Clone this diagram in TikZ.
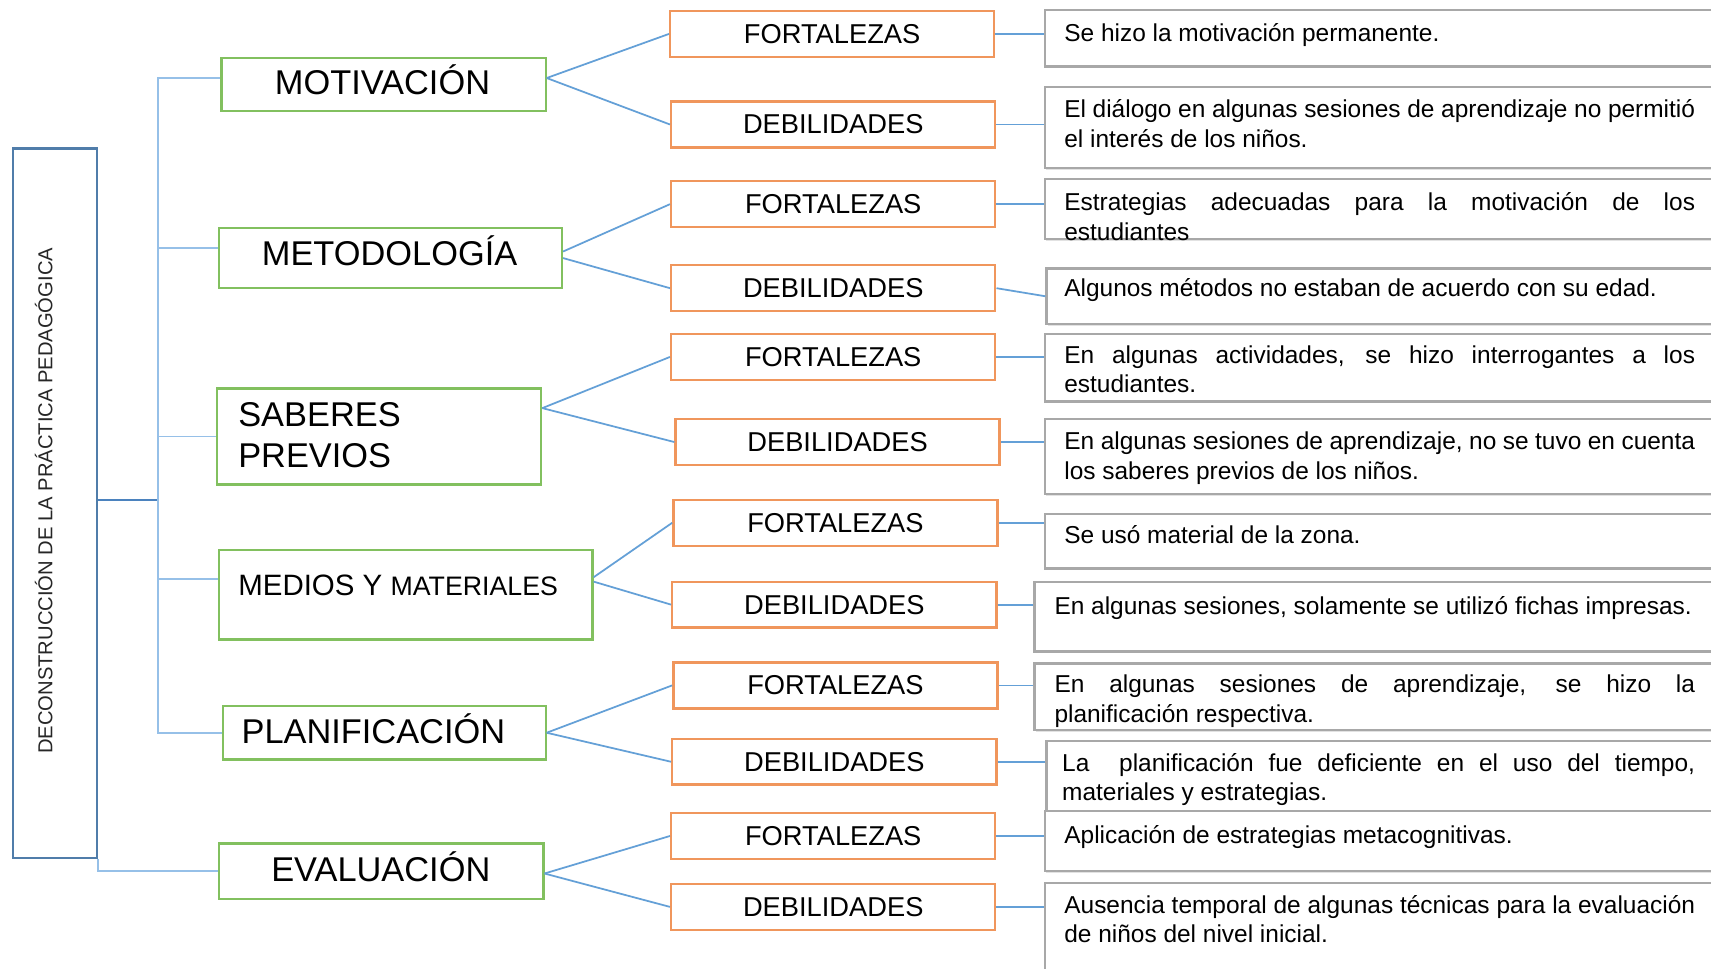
\documentclass[tikz,border=0pt]{standalone}
\usepackage{fontspec}
\usetikzlibrary{shadows}
\setmainfont{Liberation Sans}
\definecolor{catgreen}{RGB}{130,192,95}
\definecolor{obor}{RGB}{240,150,92}
\definecolor{tgray}{RGB}{168,168,168}
\definecolor{lblue}{RGB}{100,160,215}
\definecolor{brblue}{RGB}{150,192,232}
\definecolor{tblue}{RGB}{75,130,190}
\definecolor{lbox}{RGB}{80,125,170}
\hyphenpenalty=10000
\begin{document}
\begin{tikzpicture}[x=0.5pt,y=-0.5pt,
  catbox/.style={draw=catgreen, line width=1pt, fill=white, inner sep=0pt, anchor=north west},
  cattext/.style={inner sep=0pt, font=\fontsize{15.75pt}{18.5pt}\selectfont},
  obox/.style={draw=obor, line width=1.1pt, fill=white, inner sep=0pt, anchor=north west, minimum width=148.5pt, minimum height=21pt, font=\fontsize{12.5pt}{15pt}\selectfont},
  tbox/.style={draw=tgray, line width=1pt, fill=white, inner sep=0pt, anchor=north west, drop shadow={shadow xshift=0.5pt, shadow yshift=-0.8pt, fill=black!22}},
  ttext/.style={anchor=base west, inner sep=0pt, text width=289pt, align=justify, font=\fontsize{11.2pt}{13.5pt}\selectfont},
  link/.style={draw=lblue, line width=0.8pt},
  bracket/.style={draw=brblue, line width=0.9pt},
  trunkline/.style={draw=tblue, line width=0.9pt},
]
\useasboundingbox (0,0) rectangle (1568,888);
\clip (0,0) rectangle (1568,888);
\fill[white] (0,0) rectangle (1568,888);

% left box
\node[draw=lbox, line width=1.1pt, anchor=north west, inner sep=0pt, minimum width=38.5pt, minimum height=325pt] (lb) at (11,135) {};
\node[rotate=90, inner sep=0pt, font=\fontsize{9.25pt}{11pt}\selectfont, text=black!85] (lbt) at (40,459) {DECONSTRUCCIÓN DE LA PRÁCTICA PEDAGÓGICA};

% category boxes
\node[catbox, minimum width=148.5pt, minimum height=24.5pt] (mot) at (202,52) {};
\node[cattext, anchor=base] (mott) at (350.5,87) {MOTIVACIÓN};
\node[catbox, minimum width=157pt, minimum height=27.5pt] (met) at (200,208) {};
\node[cattext, anchor=base] (mett) at (357,243) {METODOLOGÍA};
\node[catbox, minimum width=148.5pt, minimum height=44pt] (sab) at (198,355) {};
\node[cattext, anchor=base west, align=left] (sabt) at (218,428) {SABERES\\PREVIOS};
\node[catbox, minimum width=171pt, minimum height=41pt] (med) at (200,503) {};
\node[anchor=west, inner sep=0pt] (medt) at (218,536) {\fontsize{13.5pt}{16pt}\selectfont MEDIOS Y \fontsize{12.25pt}{15pt}\selectfont MATERIALES};
\node[catbox, minimum width=148pt, minimum height=24.5pt] (pla) at (203,646) {};
\node[cattext, anchor=base west] (plat) at (221,681) {PLANIFICACIÓN};
\node[catbox, minimum width=148.5pt, minimum height=25.5pt] (eva) at (200,772) {};
\node[cattext, anchor=base] (evat) at (349,808) {EVALUACIÓN};

% trunk and bracket
\coordinate (trunk) at (145,458);
\draw[trunkline] (lb.east |- trunk) -- (trunk);
\draw[bracket] (trunk) |- ([yshift=3pt]mot.west);
\draw[bracket] (trunk) |- ([yshift=4.5pt]met.west);
\draw[bracket] (trunk) |- (sab.west);
\draw[bracket] (trunk) |- ([yshift=7pt]med.west);
\draw[bracket] (trunk) |- (pla.west);
\draw[bracket] (lb.south east) |- (eva.west);

% orange boxes
\node[obox] (f1) at (613,9) {FORTALEZAS};
\node[obox] (d1) at (614,92) {DEBILIDADES};
\node[obox] (f2) at (614,165) {FORTALEZAS};
\node[obox] (d2) at (614,242) {DEBILIDADES};
\node[obox] (f3) at (614,305) {FORTALEZAS};
\node[obox] (d3) at (618,383) {DEBILIDADES};
\node[obox] (f4) at (616,457) {FORTALEZAS};
\node[obox] (d4) at (615,532) {DEBILIDADES};
\node[obox] (f5) at (616,606) {FORTALEZAS};
\node[obox] (d5) at (615,676) {DEBILIDADES};
\node[obox] (f6) at (614,744) {FORTALEZAS};
\node[obox] (d6) at (614,809) {DEBILIDADES};

% category -> orange
\draw[link] ([yshift=3pt]mot.east) -- (f1.west);
\draw[link] ([yshift=3pt]mot.east) -- (d1.west);
\draw[link] ([yshift=3pt]met.east) -- (f2.west);
\draw[link] ([yshift=0pt]met.east) -- (d2.west);
\draw[link] ([yshift=13pt]sab.east) -- (f3.west);
\draw[link] ([yshift=13pt]sab.east) -- (d3.west);
\draw[link] ([yshift=8pt]med.east) -- (f4.west);
\draw[link] ([yshift=6pt]med.east) -- (d4.west);
\draw[link] (pla.east) -- (f5.west);
\draw[link] (pla.east) -- (d5.west);
\draw[link] ([yshift=-1pt]eva.east) -- (f6.west);
\draw[link] ([yshift=-1pt]eva.east) -- (d6.west);

% text boxes
\node[tbox, minimum width=326.5pt, minimum height=26pt] (t1) at (957,8) {};
\node[tbox, minimum width=326.5pt, minimum height=37pt] (t2) at (957,79) {};
\node[tbox, minimum width=326.5pt, minimum height=27.5pt] (t3) at (957,163) {};
\node[tbox, minimum width=326pt, minimum height=25.5pt] (t4) at (958,245) {};
\node[tbox, minimum width=326.5pt, minimum height=31pt] (t5) at (957,305) {};
\node[tbox, minimum width=326.5pt, minimum height=34.5pt] (t6) at (957,383) {};
\node[tbox, minimum width=326.5pt, minimum height=25pt] (t7) at (957,470) {};
\node[tbox, minimum width=331.5pt, minimum height=32pt] (t8) at (947,532) {};
\node[tbox, minimum width=331.5pt, minimum height=30.5pt] (t9) at (947,607) {};
\node[tbox, minimum width=326pt, minimum height=32pt] (t10) at (958,678) {};
\node[tbox, minimum width=326.5pt, minimum height=27.5pt] (t11) at (957,742) {};
\node[tbox, minimum width=326.5pt, minimum height=50pt] (t12) at (957,808) {};

% orange -> text
\draw[link] (f1.east) -- (f1.east -| t1.west);
\draw[link] (d1.east) -- (d1.east -| t2.west);
\draw[link] (f2.east) -- (f2.east -| t3.west);
\draw[link] (d2.east) -- (t4.west);
\draw[link] (f3.east) -- (f3.east -| t5.west);
\draw[link] (d3.east) -- (d3.east -| t6.west);
\draw[link] (f4.east) -- (f4.east -| t7.west);
\draw[link] (d4.east) -- (d4.east -| t8.west);
\draw[link] (f5.east) -- (f5.east -| t9.west);
\draw[link] (d5.east) -- (d5.east -| t10.west);
\draw[link] (f6.east) -- (f6.east -| t11.west);
\draw[link] (d6.east) -- (d6.east -| t12.west);

% texts
\begin{scope}\clip (t1.north west) rectangle (t1.south east);
\node[ttext] (x1) at (975,38) {Se hizo la motivación permanente.};
\end{scope}
\begin{scope}\clip (t2.north west) rectangle (t2.south east);
\node[ttext] (x2) at (975,108) {El diálogo en algunas sesiones de aprendizaje no permitió\linebreak el interés de los niños.};
\end{scope}
\begin{scope}\clip (t3.north west) rectangle (t3.south east);
\node[ttext] (x3) at (975,193) {Estrategias adecuadas para la motivación de los\linebreak estudiantes};
\end{scope}
\begin{scope}\clip (t4.north west) rectangle (t4.south east);
\node[ttext] (x4) at (975,272) {Algunos métodos no estaban de acuerdo con su edad.};
\end{scope}
\begin{scope}\clip (t5.north west) rectangle (t5.south east);
\node[ttext] (x5) at (975,333) {En algunas actividades, se hizo interrogantes a los\linebreak estudiantes.};
\end{scope}
\begin{scope}\clip (t6.north west) rectangle (t6.south east);
\node[ttext] (x6) at (975,412) {En algunas sesiones de aprendizaje, no se tuvo en cuenta\linebreak los saberes previos de los niños.};
\end{scope}
\begin{scope}\clip (t7.north west) rectangle (t7.south east);
\node[ttext] (x7) at (975,498) {Se usó material de la zona.};
\end{scope}
\begin{scope}\clip (t8.north west) rectangle (t8.south east);
\node[ttext, text width=293.5pt] (x8) at (966,563) {En algunas sesiones, solamente se utilizó fichas impresas.};
\end{scope}
\begin{scope}\clip (t9.north west) rectangle (t9.south east);
\node[ttext, text width=293.5pt] (x9) at (966,635) {En algunas sesiones de aprendizaje, se hizo la\linebreak planificación respectiva.};
\end{scope}
\begin{scope}\clip (t10.north west) rectangle (t10.south east);
\node[ttext, text width=290pt] (x10) at (973,707) {La\ \ planificación fue deficiente en el uso del tiempo,\linebreak materiales y estrategias.};
\end{scope}
\begin{scope}\clip (t11.north west) rectangle (t11.south east);
\node[ttext] (x11) at (975,773) {Aplicación de estrategias metacognitivas.};
\end{scope}
\begin{scope}\clip (t12.north west) rectangle (t12.south east);
\node[ttext] (x12) at (975,837) {Ausencia temporal de algunas técnicas para la evaluación\linebreak de niños del nivel inicial.};
\end{scope}
\end{tikzpicture}
\end{document}
